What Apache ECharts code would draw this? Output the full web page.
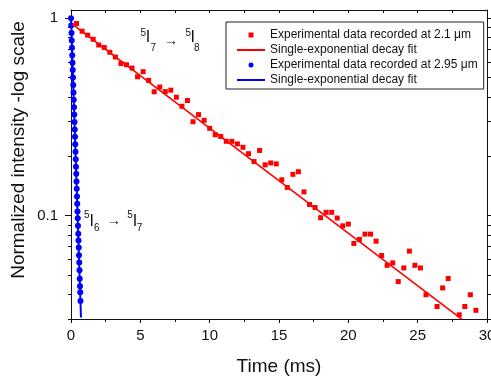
<!DOCTYPE html>
<html><head><meta charset="utf-8">
<script src="https://cdn.jsdelivr.net/npm/echarts@6/dist/echarts.min.js"></script>
<style>html,body{margin:0;padding:0;background:#fff}#c{width:491px;height:376px}</style>
</head><body><div id="c"></div>
<script>
// ---- data ----
const redTime = [0.4,0.8,1.2,1.6,2.0,2.4,2.8,3.2,3.6,4.0,4.4,4.8,5.2,5.6,6.0,6.4,6.8,7.2,7.6,8.0,8.4,8.8,9.2,9.6,10.0,10.4,10.8,11.2,11.6,12.0,12.4,12.8,13.2,13.6,14.0,14.4,14.8,15.2,15.6,16.0,16.4,16.8,17.2,17.6,18.0,18.4,18.8,19.2,19.6,20.0,20.4,20.8,21.2,21.6,22.0,22.4,22.8,23.2,23.6,24.0,24.4,24.8,25.2,25.6,26.4,26.8,27.2,28.0,28.4,28.8,29.2];
const redValue = [0.940,0.859,0.820,0.782,0.732,0.710,0.672,0.636,0.589,0.581,0.559,0.505,0.536,0.484,0.424,0.448,0.425,0.432,0.398,0.358,0.383,0.299,0.325,0.304,0.277,0.257,0.252,0.238,0.238,0.231,0.222,0.206,0.188,0.214,0.181,0.185,0.183,0.152,0.139,0.162,0.167,0.132,0.114,0.110,0.0977,0.104,0.104,0.0973,0.0889,0.0907,0.0724,0.0759,0.0807,0.0807,0.0743,0.0629,0.0561,0.0577,0.0464,0.0544,0.0662,0.0561,0.0544,0.0398,0.0347,0.0431,0.0481,0.0315,0.0347,0.0398,0.0332];
const redFitTime = [0.07, 28.2];
const redFitValue = [0.935, 0.0299];

const blueTime = [0,0.018,0.036,0.054,0.072,0.09,0.108,0.126,0.144,0.162,0.18,0.198,0.216,0.234,0.252,0.27,0.288,0.306,0.324,0.342,0.36,0.378,0.396,0.414,0.432,0.45,0.468,0.486,0.504,0.522,0.54,0.558,0.576,0.594,0.612,0.63,0.648,0.666,0.684];
const blueValue = [1.000,0.917,0.841,0.771,0.708,0.649,0.595,0.546,0.501,0.459,0.421,0.386,0.354,0.325,0.298,0.273,0.251,0.230,0.211,0.193,0.177,0.163,0.149,0.137,0.125,0.115,0.105,0.097,0.089,0.081,0.075,0.069,0.063,0.058,0.053,0.048,0.044,0.041,0.037];
const blueFitTime = [0, 0.72];
const blueFitValue = [1.02, 0.0305];

const yMajorTicks = [0.1, 1];
const yMinorTicks = [0.03,0.04,0.05,0.06,0.07,0.08,0.09,0.2,0.3,0.4,0.5,0.6,0.7,0.8,0.9];
const seriesNames = ['Experimental data recorded at 2.1 \u03bcm','Single-exponential decay fit','Experimental data recorded at 2.95 \u03bcm','Single-exponential decay fit'];

// ---- chart ----
const FONT = '"Liberation Sans", Arial, Helvetica, sans-serif';
const INK = '#111';
const pairs = (xs, ys) => xs.map((x, i) => [x, ys[i]]);
const ids = ['red', 'redFit', 'blue', 'blueFit'];
const fmtNum = v => String(Math.round(v * 1000) / 1000);

function xAx(pos, inside, showLabel) {
  return {
    type: 'value', position: pos, min: 0, max: 30, interval: 5,
    axisLine: {show: true, onZero: false, lineStyle: {color: INK, width: 1}},
    axisTick: {show: true, inside: inside, length: inside ? 3 : 4, lineStyle: {color: INK}},
    minorTick: {show: true, splitNumber: 2, length: 3, lineStyle: {color: INK}},
    axisLabel: {show: showLabel, fontSize: 15, color: INK, fontFamily: FONT, margin: 9},
    splitLine: {show: false}, minorSplitLine: {show: false},
    name: showLabel ? 'Time (ms)' : '', nameLocation: 'middle', nameGap: 38,
    nameTextStyle: {fontSize: 19, color: INK, fontFamily: FONT}
  };
}
function yAx(pos, ticks, len, showLine, showLabel) {
  return {
    type: 'log', logBase: 10, position: pos, min: 0.03, max: 1.1,
    axisLine: {show: showLine, onZero: false, lineStyle: {color: INK, width: 1}},
    axisTick: {show: true, inside: false, length: len, customValues: ticks, lineStyle: {color: INK}},
    axisLabel: {show: showLabel, customValues: ticks, formatter: fmtNum, fontSize: 15, color: INK, fontFamily: FONT, margin: 13},
    splitLine: {show: false}, minorTick: {show: false}
  };
}

const txt = (s, x, y, size) => ({type: 'text', x: x, y: y, z: 100, silent: true,
  style: {text: s, font: size + 'px ' + FONT, fill: INK, align: 'center', verticalAlign: 'middle'}});

const option = {
  animation: false,
  backgroundColor: '#fff',
  grid: {left: 71, right: 4, top: 10, bottom: 57, outerBoundsMode: 'none', containLabel: false},
  xAxis: [xAx('bottom', false, true), xAx('top', true, false)],
  yAxis: [
    yAx('left', yMajorTicks, 6, true, true),
    yAx('left', yMinorTicks, 3, false, false),
    yAx('right', yMajorTicks, 4, true, false),
    yAx('right', yMinorTicks, 4, false, false)
  ],
  legend: {
    orient: 'vertical', left: 226, top: 22, padding: [7, 6, 3, 10],
    itemWidth: 28, itemHeight: 5, itemGap: 3, symbolKeepAspect: true,
    backgroundColor: '#fff', borderColor: '#222', borderWidth: 1,
    textStyle: {fontSize: 12, color: INK, fontFamily: FONT, width: 214},
    data: [
      {name: 'red', icon: 'path://M0,0h10v10h-10z'},
      {name: 'redFit', itemStyle: {opacity: 0}},
      {name: 'blue', icon: 'circle'},
      {name: 'blueFit', itemStyle: {opacity: 0}}
    ],
    formatter: name => seriesNames[ids.indexOf(name)]
  },
  series: [
    {id: 'red', name: 'red', type: 'scatter', symbol: 'rect', symbolSize: 5, itemStyle: {color: '#ff0000', opacity: 1}, data: pairs(redTime, redValue), z: 3},
    {id: 'redFit', name: 'redFit', type: 'line', symbol: 'none', lineStyle: {color: '#ff0000', width: 1.6}, itemStyle: {color: '#ff0000'}, data: pairs(redFitTime, redFitValue), z: 4},
    {id: 'blue', name: 'blue', type: 'scatter', symbol: 'circle', symbolSize: 6, itemStyle: {color: '#0000ff', opacity: 1}, data: pairs(blueTime, blueValue), z: 3},
    {id: 'blueFit', name: 'blueFit', type: 'line', symbol: 'none', lineStyle: {color: '#0000ff', width: 2}, itemStyle: {color: '#0000ff'}, data: pairs(blueFitTime, blueFitValue), z: 4}
  ],
  graphic: [
    {type: 'text', x: 19, y: 150, rotation: Math.PI / 2, silent: true,
     style: {text: 'Normalized intensity -log scale', font: '19px ' + FONT, fill: INK, align: 'center', verticalAlign: 'middle'}},
    txt('5', 143.3, 33.5, 10), txt('I', 148, 37.5, 16), txt('7', 153.3, 48, 10), txt('\u2192', 171, 41.5, 14),
    txt('5', 188.3, 33.5, 10), txt('I', 192.7, 37.5, 16), txt('8', 196.7, 48, 10),
    txt('5', 86.7, 215.5, 10), txt('I', 91.7, 221.5, 16), txt('6', 96.7, 228.3, 10), txt('\u2192', 114, 221.5, 14),
    txt('5', 130, 215.5, 10), txt('I', 135, 221.5, 16), txt('7', 139.5, 228.3, 10)
  ]
};
const chart = echarts.init(document.getElementById('c'));
chart.setOption(option);
</script>
</body></html>
